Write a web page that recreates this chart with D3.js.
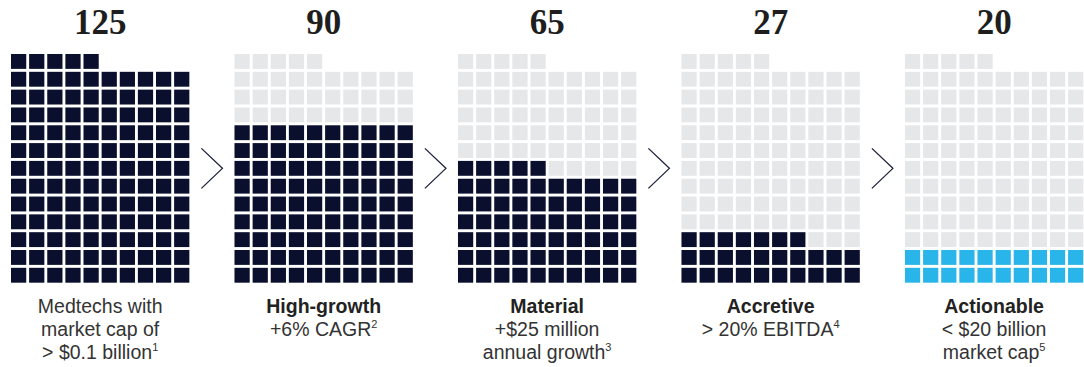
<!DOCTYPE html>
<html>
<head>
<meta charset="utf-8">
<script src="https://cdn.jsdelivr.net/npm/d3@7"></script>
<style>
  html, body { margin: 0; padding: 0; background: #ffffff; }
  svg { display: block; }
</style>
</head>
<body>
<svg id="chart" width="1084" height="367"></svg>
<script>
// ---- data ----
const categories = ["Medtechs", "High-growth", "Material", "Accretive", "Actionable"];
const values = [125, 90, 65, 27, 20];
const total = 125;
const highlight = [false, false, false, false, true];
const titleLines = [null, "High-growth", "Material", "Accretive", "Actionable"];
const bodyLines = [
  [["Medtechs with", ""], ["market cap of", ""], ["> $0.1 billion", "1"]],
  [["+6% CAGR", "2"]],
  [["+$25 million", ""], ["annual growth", "3"]],
  [["> 20% EBITDA", "4"]],
  [["< $20 billion", ""], ["market cap", "5"]]
];
const nCols = 10, nRows = 13;

// ---- layout ----
const svg = d3.select("#chart");
const colorDark = "#0a0f2e", colorCyan = "#29b5ea", colorEmpty = "#e6e7e9";

const xGroup = d3.scaleBand().domain(categories).range([11, 1083.3]).paddingInner(0.202).paddingOuter(0);
const xCell = d3.scaleBand().domain(d3.range(nCols)).range([0, xGroup.bandwidth()]).paddingInner(0.16).paddingOuter(0);
// rows counted from bottom: row 0 at bottom
const yCell = d3.scaleBand().domain(d3.range(nRows)).range([282.7, 54]).paddingInner(0.165).paddingOuter(0);

const groups = svg.selectAll("g.grp")
  .data(categories.map((c, i) => ({ c, i, v: values[i] })))
  .join("g")
  .attr("class", "grp")
  .attr("transform", d => `translate(${xGroup(d.c)},0)`);

groups.selectAll("rect")
  .data(d => d3.range(total).map(k => ({ k, filled: k < d.v, hl: highlight[d.i] })))
  .join("rect")
  .attr("x", d => xCell(d.k % nCols))
  .attr("y", d => yCell(Math.floor(d.k / nCols)))
  .attr("width", xCell.bandwidth())
  .attr("height", yCell.bandwidth())
  .attr("fill", d => d.filled ? (d.hl ? colorCyan : colorDark) : colorEmpty);

// big numbers
groups.append("text")
  .attr("x", xGroup.bandwidth() / 2)
  .attr("y", 34)
  .attr("text-anchor", "middle")
  .attr("font-family", "'Liberation Serif', 'Times New Roman', serif")
  .attr("font-weight", "bold")
  .attr("font-size", 35)
  .attr("fill", "#1e1e1e")
  .text(d => d.v);

// labels
const lineH = 23;
groups.each(function (d) {
  const g = d3.select(this);
  const cx = xGroup.bandwidth() / 2;
  let y = 313;
  const t = g.append("text")
    .attr("text-anchor", "middle")
    .attr("font-family", "'Liberation Sans', Arial, sans-serif")
    .attr("font-size", 19.5)
    .attr("fill", "#333333");
  if (titleLines[d.i]) {
    t.append("tspan").attr("x", cx).attr("y", y)
      .attr("font-weight", "bold").attr("fill", "#222222")
      .text(titleLines[d.i]);
    y += lineH;
  }
  bodyLines[d.i].forEach(([txt, sup]) => {
    t.append("tspan").attr("x", cx).attr("y", y).text(txt);
    if (sup) {
      t.append("tspan").attr("font-size", 11).attr("dy", -8).text(sup);
    }
    y += lineH;
  });
});

// chevrons between grids
const chevrons = d3.range(categories.length - 1).map(i => {
  const left = xGroup(categories[i]) + xGroup.bandwidth();
  const right = xGroup(categories[i + 1]);
  return (left + right) / 2;
});
const yMid = (yCell.range()[0] + yCell.range()[1]) / 2;
svg.selectAll("path.chev")
  .data(chevrons)
  .join("path")
  .attr("class", "chev")
  .attr("d", cx => `M${cx - 10.5},${yMid - 20} L${cx + 10.5},${yMid} L${cx - 10.5},${yMid + 20}`)
  .attr("fill", "none")
  .attr("stroke", "#1a1f3a")
  .attr("stroke-width", 1.3);
</script>
</body>
</html>
